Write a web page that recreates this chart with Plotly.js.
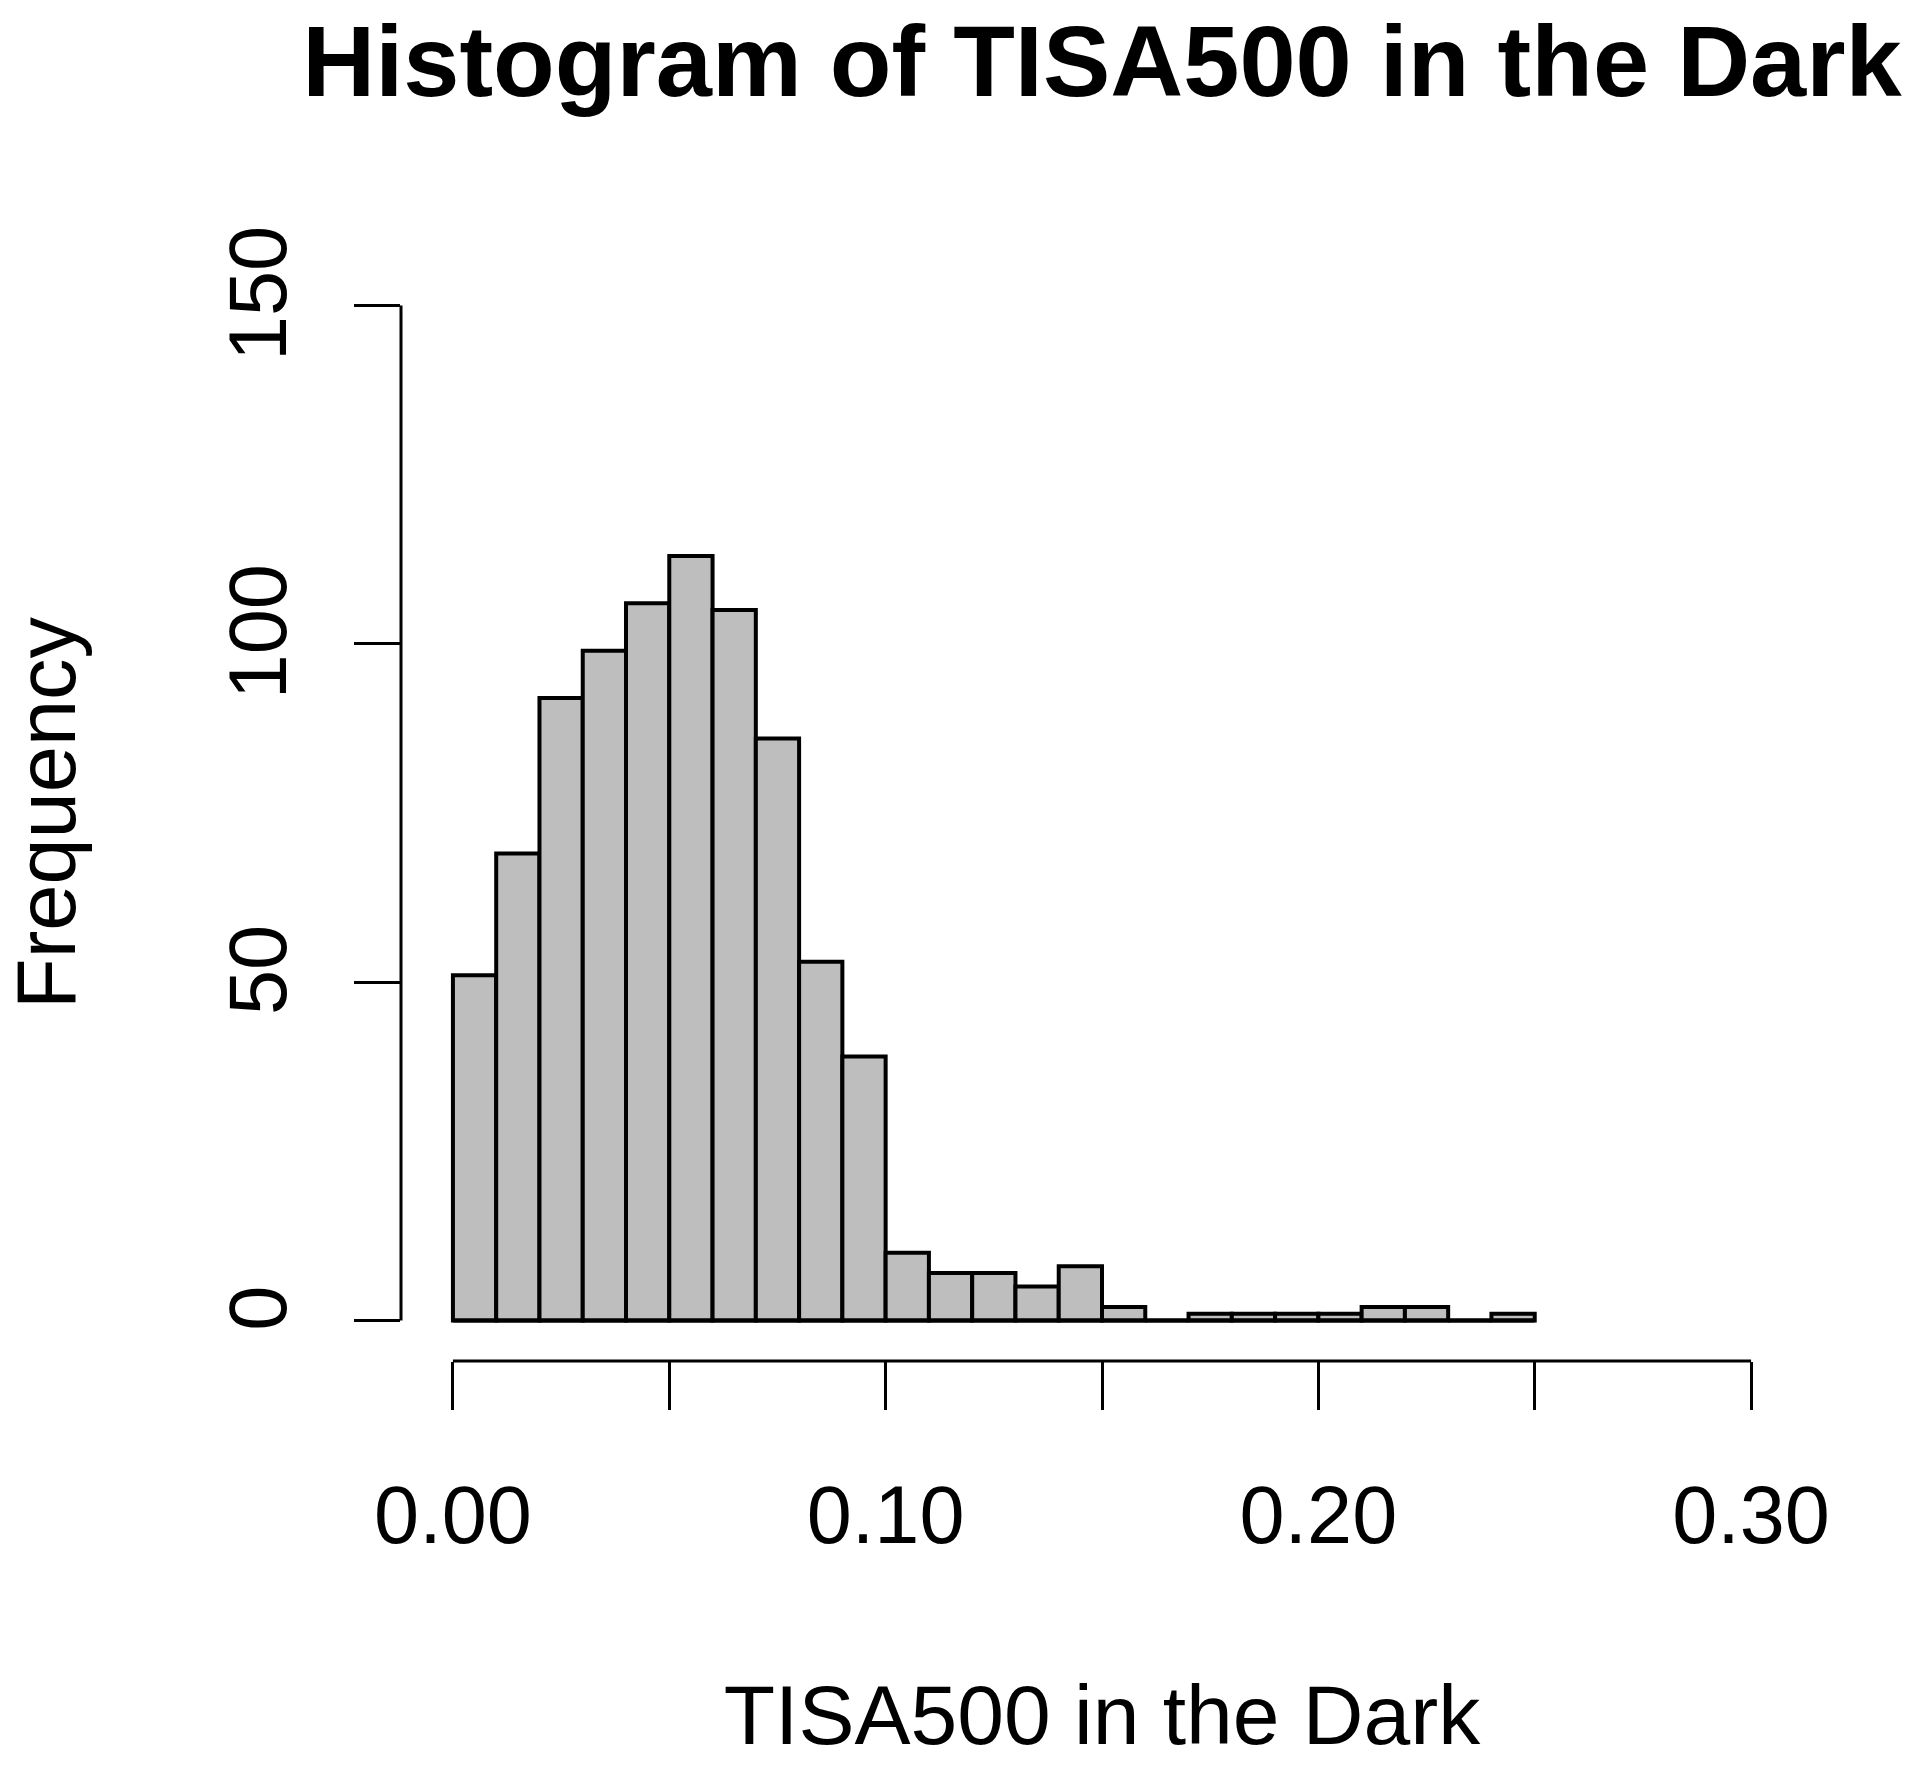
<!DOCTYPE html>
<html>
<head>
<meta charset="utf-8">
<script src="https://cdn.plot.ly/plotly-3.0.1.min.js"></script>
<style>
  html, body { margin: 0; padding: 0; background: #fff; }
</style>
</head>
<body>
<div id="hist-id" style="width:1920px;height:1770px;"></div>
<script>
// bin edges (0.01 wide) and counts
const binStart = 0;
const binSize = 0.01;
const counts = [51, 69, 92, 99, 106, 113, 105, 86, 53, 39,
                10, 7, 7, 5, 8, 2, 0, 1, 1, 1,
                1, 2, 2, 0, 1];

const xTicks = [0, 0.05, 0.10, 0.15, 0.20, 0.25, 0.30];
const xTickText = ['0.00', '', '0.10', '', '0.20', '', '0.30'];
const yTicks = [0, 50, 100, 150];

const mids = counts.map((_, i) => binStart + binSize * (i + 0.5));
const binEnd = binStart + binSize * counts.length;

const font = 'Liberation Sans, Arial, Helvetica, sans-serif';

const data = [
  {
    x: mids,
    y: counts,
    width: binSize,
    type: 'bar',
    marker: { color: '#bebebe', line: { color: '#000', width: 4 } },
    hoverinfo: 'x+y'
  }
];

const layout = {
  width: 1920,
  height: 1770,
  margin: { l: 401, r: 117, t: 265, b: 409 },
  paper_bgcolor: '#fff',
  plot_bgcolor: '#fff',
  showlegend: false,
  font: { family: font, color: '#000' },
  title: {
    text: 'Histogram of TISA500 in the Dark',
    font: { family: font, size: 101, weight: 'bold', color: '#000' },
    xref: 'paper', x: 0.5, xanchor: 'center',
    yref: 'container', y: 1 - 61 / 1770, yanchor: 'middle'
  },
  xaxis: {
    range: [-0.012, 0.312],
    tickmode: 'array',
    tickvals: xTicks,
    ticktext: xTickText,
    ticks: 'outside', ticklen: 48, tickwidth: 3, tickcolor: '#000',
    ticklabelstandoff: 36,
    tickfont: { size: 81 },
    showgrid: false, zeroline: false, showline: false,
    title: { text: 'TISA500 in the Dark', font: { size: 84 }, standoff: 125 }
  },
  yaxis: {
    range: [-6, 156],
    tickmode: 'array',
    tickvals: yTicks,
    ticks: 'outside', ticklen: 46, tickwidth: 3, tickcolor: '#000',
    tickangle: -90,
    ticklabelstandoff: 36,
    tickfont: { size: 81 },
    showgrid: false, zeroline: false, showline: false,
    title: { text: 'Frequency', font: { size: 83 }, standoff: 124 }
  },
  shapes: [
    // R style axis lines, only over the tick range
    { type: 'line', xref: 'x', yref: 'paper', x0: xTicks[0], x1: xTicks[xTicks.length - 1], y0: 0, y1: 0,
      line: { color: '#000', width: 3 } },
    { type: 'line', xref: 'paper', yref: 'y', x0: 0, x1: 0, y0: yTicks[0], y1: yTicks[yTicks.length - 1],
      line: { color: '#000', width: 3 } },
    // baseline under the empty bins
    { type: 'line', xref: 'x', yref: 'y', x0: binStart, x1: binEnd, y0: 0, y1: 0,
      line: { color: '#000', width: 4 } }
  ]
};

Plotly.newPlot('hist-id', data, layout, { displayModeBar: false, staticPlot: true });
</script>
</body>
</html>
